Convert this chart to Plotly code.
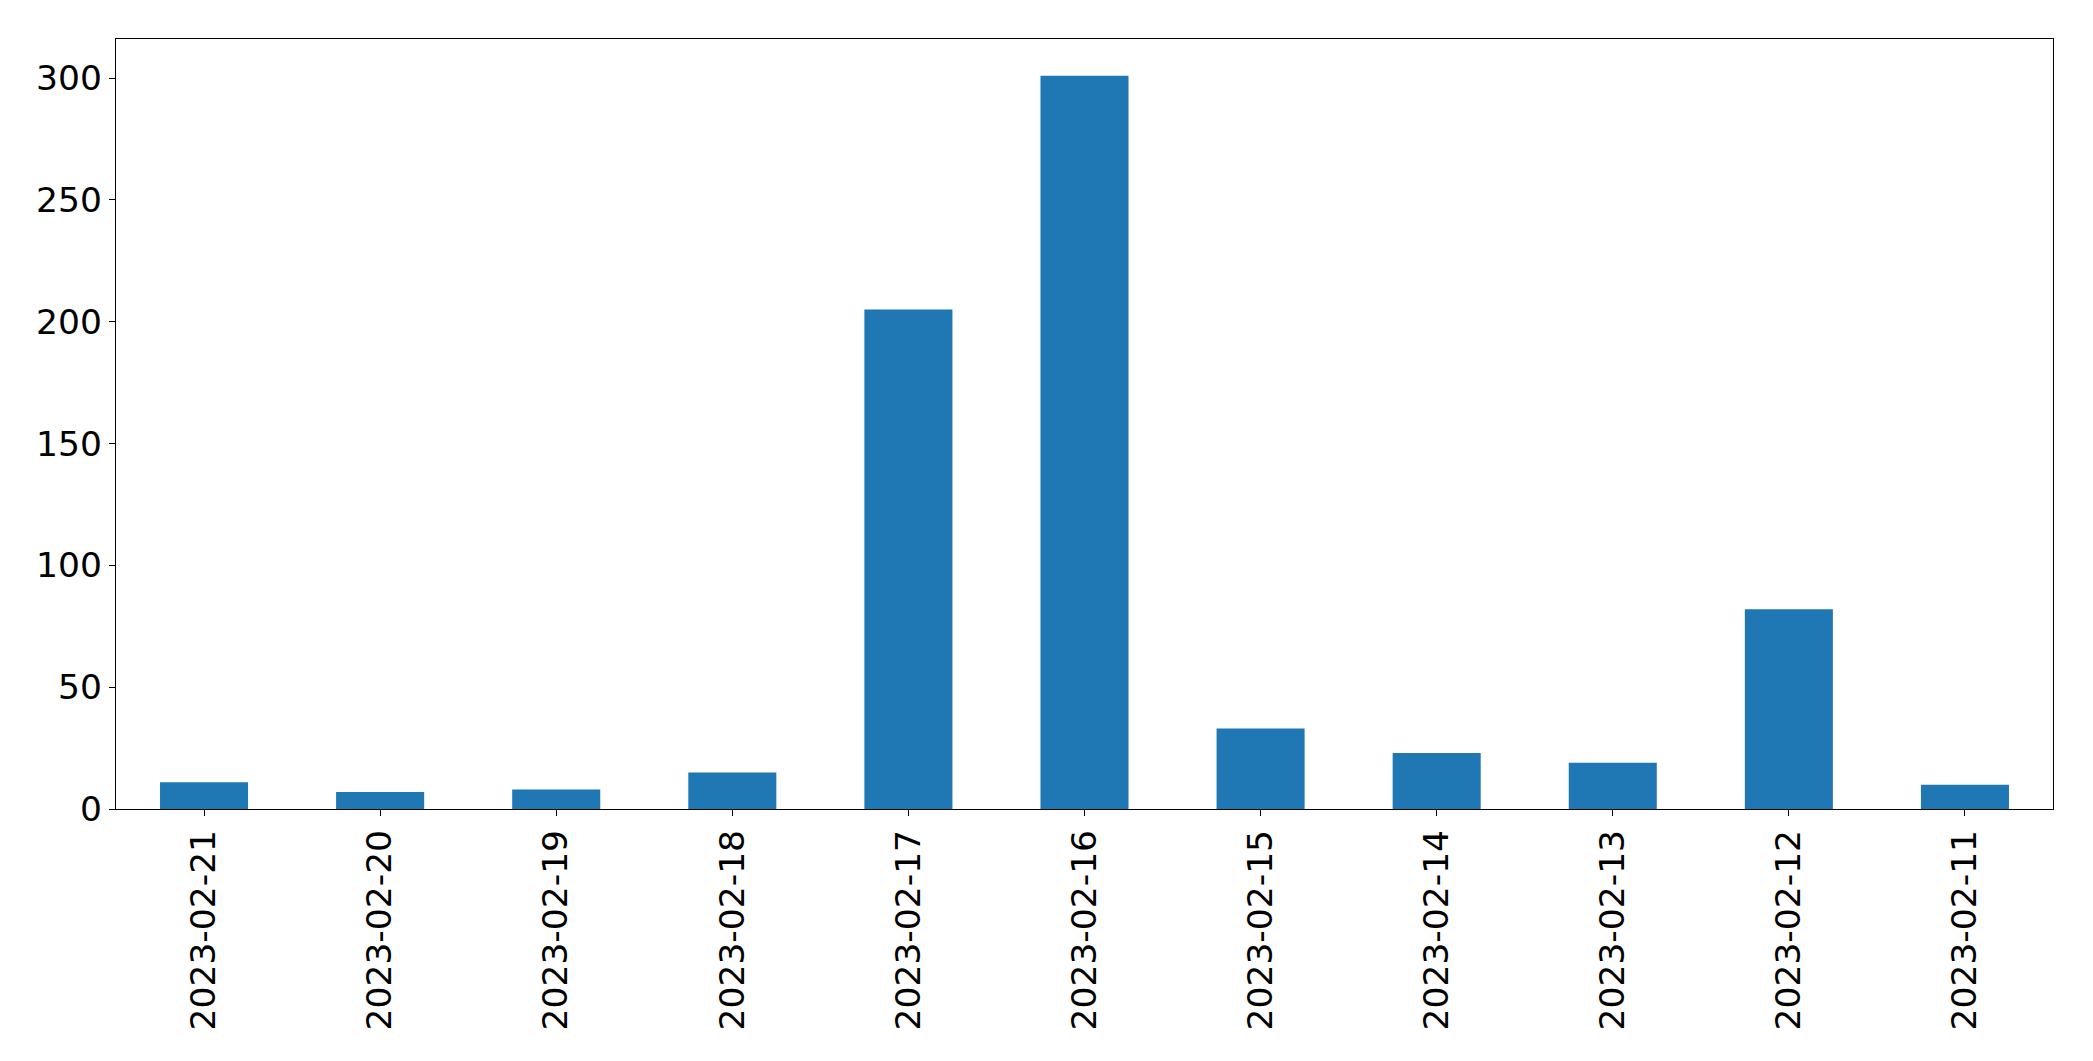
import plotly.graph_objects as go

dates = ["2023-02-21", "2023-02-20", "2023-02-19", "2023-02-18", "2023-02-17",
         "2023-02-16", "2023-02-15", "2023-02-14", "2023-02-13", "2023-02-12", "2023-02-11"]
counts = [11, 7, 8, 15, 205, 301, 33, 23, 19, 82, 10]
y_ticks = [0, 50, 100, 150, 200, 250, 300]

fig = go.Figure(go.Bar(x=dates, y=counts, marker_color="#1f77b4", marker_line_width=0))

font = dict(family="DejaVu Sans", size=34.5, color="black")
fig.update_layout(
    width=2077, height=1045,
    margin=dict(l=108, r=32, t=31, b=244),
    paper_bgcolor="white", plot_bgcolor="white",
    bargap=0.5, showlegend=False,
    font=font,
)
fig.update_xaxes(
    type="category", range=[-0.5, len(dates) - 0.5],
    tickangle=-90, tickfont=font,
    showline=True, linecolor="black", linewidth=1.3, mirror=True,
    ticks="outside", ticklen=6, tickcolor="black", tickwidth=1.3,
    showgrid=False, zeroline=False,
)
fig.update_yaxes(
    range=[0, max(counts) * 1.05], tickvals=y_ticks, tickfont=font,
    showline=True, linecolor="black", linewidth=1.3, mirror=True,
    ticks="outside", ticklen=6, tickcolor="black", tickwidth=1.3,
    showgrid=False, zeroline=False,
)
fig.write_html("out.html")
